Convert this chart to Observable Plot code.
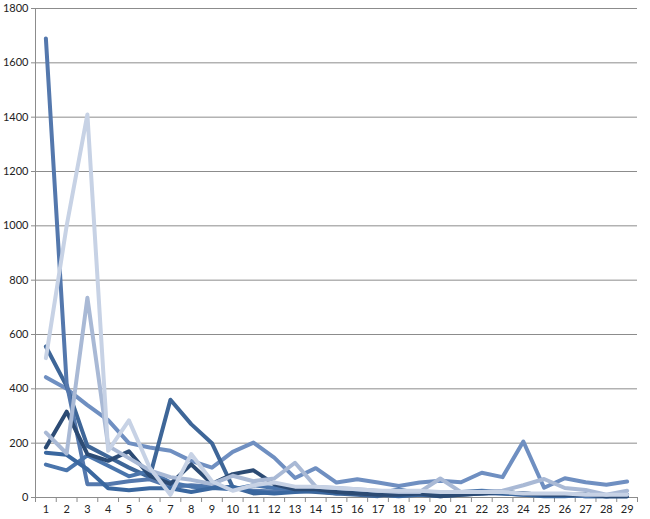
<!DOCTYPE html>
<html><head><meta charset="utf-8">
<script src="https://cdn.jsdelivr.net/npm/d3@7"></script>
<script src="https://cdn.jsdelivr.net/npm/@observablehq/plot@0.6"></script>
<style>html,body{margin:0;padding:0;background:#fff;}</style>
</head><body><div id="chart"></div>
<script>
const days = [1,2,3,4,5,6,7,8,9,10,11,12,13,14,15,16,17,18,19,20,21,22,23,24,25,26,27,28,29];
const yTicks = [0,200,400,600,800,1000,1200,1400,1600,1800];

const seriesLong   = [443,400,340,285,200,184,172,135,110,168,202,147,72,108,55,67,55,42,55,62,56,91,75,206,36,71,56,47,59];
const seriesPeak7  = [556,410,190,150,110,75,360,270,200,38,15,20,25,20,15,10,5,18,10,5,10,15,20,15,10,10,5,5,10];
const seriesPeak1  = [1690,420,49,49,60,67,40,45,40,35,25,22,22,25,20,15,10,15,10,10,15,15,15,10,10,10,10,5,5];
const series121    = [121,100,155,117,78,98,55,40,35,30,45,35,35,30,25,20,15,30,15,10,20,25,20,15,10,10,5,5,10];
const series163    = [165,157,104,34,27,34,34,20,34,40,20,15,20,25,15,20,10,5,10,10,15,20,15,10,5,5,10,5,5];
const seriesNavy   = [184,316,160,135,170,80,50,122,50,86,100,49,30,30,20,15,10,10,15,5,10,15,20,15,10,10,10,5,5];
const seriesPeak3b = [239,162,735,190,145,100,75,65,50,80,60,70,128,40,35,30,25,20,20,70,20,20,25,45,68,35,28,10,25];
const seriesPeak3a = [513,1000,1410,172,284,110,10,160,60,25,45,55,40,40,35,30,25,25,25,20,20,20,20,15,15,15,10,10,10];

const seriesNames  = ["long","peak7","peak1","s121","s163","navy","peak3b","peak3a"];
const seriesValues = [seriesLong,seriesPeak7,seriesPeak1,series121,series163,seriesNavy,seriesPeak3b,seriesPeak3a];
const seriesColors = ["#6f8fc1","#3e6698","#5478ad","#4a75ac","#3a679f","#2c4b74","#a9b9d5","#c7d2e5"];

const data = seriesNames.flatMap((name,i) => seriesValues[i].map((v,j) => ({series:name, day:days[j], value:v})));
const boundaries = [days[0]-0.5, ...days.map(d => d+0.5)];

const chart = Plot.plot({
  width:650, height:519,
  marginLeft:35, marginRight:13, marginTop:8, marginBottom:22,
  style:{fontFamily:"Lato, 'Open Sans', sans-serif", fontSize:"11px", color:"#222", background:"#fff"},
  x:{type:"linear", domain:[days[0]-0.5, days[days.length-1]+0.5]},
  y:{domain:[0,1800]},
  color:{domain:seriesNames, range:seriesColors},
  marks:[
    Plot.gridY(yTicks,{stroke:"#8c8c8c", strokeOpacity:1}),
    Plot.axisY(yTicks,{tickSize:4, tickPadding:3, stroke:"#8c8c8c", tickFormat:d => String(d), label:null}),
    Plot.axisX(boundaries,{tickSize:5, tickFormat:() => "", stroke:"#8c8c8c", label:null}),
    Plot.axisX(days,{tickSize:0, tickPadding:8, tickFormat:d => String(d), label:null}),
    Plot.ruleX([days[0]-0.5],{stroke:"#8c8c8c"}),
    Plot.ruleY([0],{stroke:"#8c8c8c"}),
    Plot.line(data,{x:"day", y:"value", z:"series", stroke:"series", strokeWidth:4, strokeLinejoin:"round", strokeLinecap:"round"})
  ]
});
document.getElementById("chart").appendChild(chart);
</script>
</body></html>
